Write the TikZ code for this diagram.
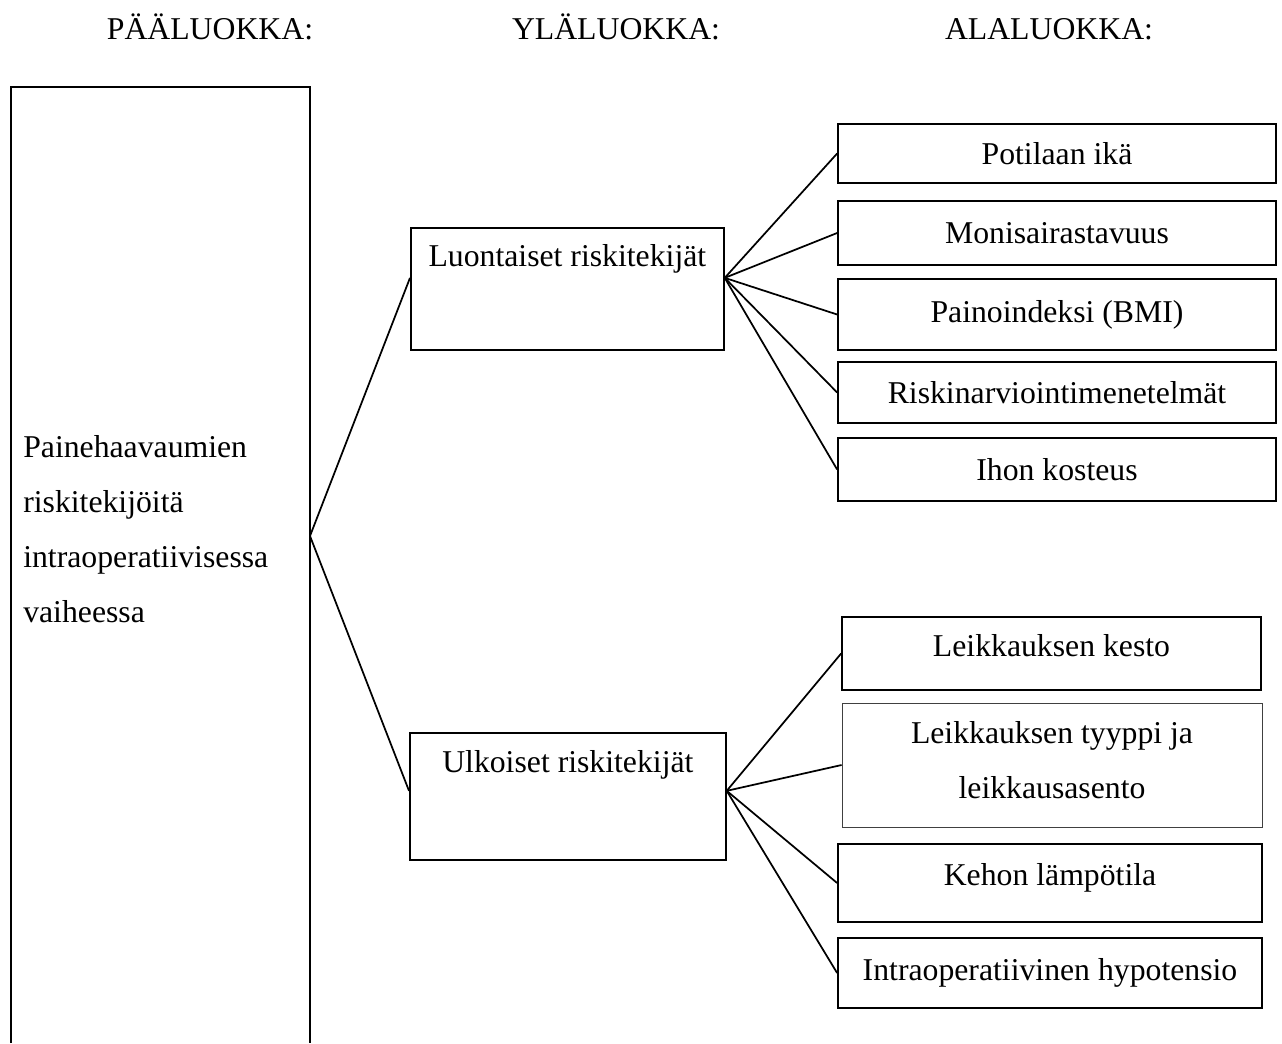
\documentclass[tikz,border=0pt]{standalone}
\usepackage{fontspec}
\setmainfont{Liberation Serif}
\usetikzlibrary{calc}

\tikzset{
  laatikko/.style={draw, rectangle, line width=1.3pt, inner sep=0pt, align=center},
  alaluokka/.style={laatikko, minimum width=328.5pt},
  otsikko/.style={anchor=base, inner sep=0pt},
  viiva/.style={line width=1.3pt},
}

\begin{document}
\begin{tikzpicture}[x=0.75pt,y=-0.75pt,font=\fontsize{23.8}{41.25}\selectfont]
    \useasboundingbox (0,0) rectangle (1282,1043);

    % otsikot
    \node[otsikko] (paa) at (210,39) {PÄÄLUOKKA:};
    \node[otsikko] (yla) at (616,39) {YLÄLUOKKA:};
    \node[otsikko] (ala) at (1049,39) {ALALUOKKA:};

    % pääluokka, alareuna jää auki
    \draw[viiva] (11,1043) |- (310,87) -- (310,1043);
    \coordinate (P) at (310,536);
    \node[anchor=north west, align=left, inner sep=0pt] (paateksti) at (23,435)
        {Painehaavaumien\\riskitekijöitä\\intraoperatiivisessa\\vaiheessa};

    % yläluokat
    \node[laatikko, anchor=north west, minimum width=234.75pt, text height=29.25pt, text depth=62.25pt] (luont) at (410,227) {Luontaiset riskitekijät};
    \node[laatikko, anchor=north west, minimum width=237pt, text height=30pt, text depth=65.25pt] (ulk) at (409,732) {Ulkoiset riskitekijät};

    % alaluokat
    \node[alaluokka, minimum height=44.25pt] (ika) at (1057,153.5) {Potilaan ikä};
    \node[alaluokka, minimum height=48pt] (moni) at (1057,233) {Monisairastavuus};
    \node[alaluokka, minimum height=53.25pt] (bmi) at (1057,314.5) {Painoindeksi (BMI)};
    \node[alaluokka, minimum height=45.75pt] (riski) at (1057,392.5) {Riskinarviointimenetelmät};
    \node[alaluokka, minimum height=47.25pt] (iho) at (1057,469.5) {Ihon kosteus};

    \node[laatikko, minimum width=314.25pt, minimum height=54.75pt, text depth=12pt] (kesto) at (1051.5,653.5) {Leikkauksen kesto};
    \node[laatikko, line width=0.6pt, draw=black!75, minimum width=315pt, minimum height=93pt, text depth=7.5pt] (tyyppi) at (1052,765) {Leikkauksen tyyppi ja\\leikkausasento};
    \node[laatikko, minimum width=318pt, minimum height=58.5pt, text depth=12.5pt] (lampo) at (1050,883) {Kehon lämpötila};
    \node[laatikko, minimum width=318pt, minimum height=52.5pt] (hypo) at (1050,973) {Intraoperatiivinen hypotensio};

    % yhteydet
    \draw[viiva] (P) -- (luont.176);
    \draw[viiva] (P) -- (ulk.178);
    \foreach \k in {ika,moni,bmi,riski,iho}
        \draw[viiva] (luont.4) -- (\k.west);
    \foreach \k in {kesto,tyyppi,lampo,hypo}
        \draw[viiva] (ulk.2) -- (\k.west);
\end{tikzpicture}
\end{document}
